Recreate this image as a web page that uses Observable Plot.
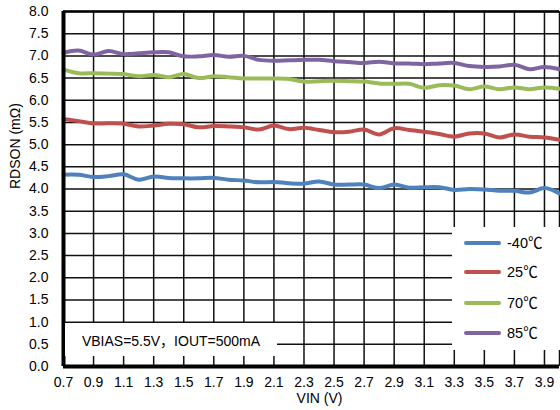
<!DOCTYPE html>
<html>
<head>
<meta charset="utf-8">
<script src="https://cdn.jsdelivr.net/npm/d3@7"></script>
<script src="https://cdn.jsdelivr.net/npm/@observablehq/plot@0.6"></script>
<style>
  html, body { margin: 0; padding: 0; background: #fff; }
  #wrap { position: relative; width: 560px; height: 410px; overflow: hidden;
          font-family: "Liberation Sans", Arial, "Noto Sans CJK SC", sans-serif; color: #000; }
  .box { position: absolute; background: #fff; }
  #legend { left: 452px; top: 227px; width: 110px; height: 123px; }
  .item { position: absolute; left: 0; height: 20px; }
  .sw { position: absolute; left: 12px; top: 8px; width: 37px; height: 4px; border-radius: 2px; }
  .lab { position: absolute; left: 55px; top: 1px; font-size: 14.5px; line-height: 18px; white-space: nowrap; }
  #note { left: 65px; top: 323px; width: 212px; height: 33px; font-size: 14px;
          display: flex; align-items: center; justify-content: center; white-space: nowrap; }
</style>
</head>
<body>
<div id="wrap"></div>
<script>
// ---- data ----
const vin = [0.7,0.8,0.9,1.0,1.1,1.2,1.3,1.4,1.5,1.6,1.7,1.8,1.9,2.0,2.1,2.2,2.3,2.4,2.5,2.6,2.7,2.8,2.9,3.0,3.1,3.2,3.3,3.4,3.5,3.6,3.7,3.8,3.9,4.0];
const rdsM40 = [4.32,4.32,4.27,4.29,4.33,4.21,4.28,4.25,4.24,4.24,4.25,4.21,4.19,4.15,4.16,4.13,4.12,4.17,4.10,4.10,4.10,4.02,4.10,4.03,4.04,4.04,3.98,4.00,3.99,3.96,3.96,3.92,4.02,3.90];
const rds25  = [5.58,5.53,5.48,5.48,5.47,5.41,5.43,5.47,5.46,5.39,5.42,5.41,5.39,5.34,5.43,5.35,5.38,5.33,5.28,5.29,5.34,5.23,5.37,5.33,5.29,5.24,5.18,5.25,5.25,5.16,5.23,5.18,5.16,5.11];
const rds70  = [6.69,6.61,6.61,6.60,6.59,6.54,6.57,6.52,6.59,6.50,6.54,6.52,6.49,6.49,6.49,6.48,6.42,6.43,6.44,6.43,6.42,6.38,6.37,6.37,6.28,6.34,6.33,6.25,6.31,6.25,6.29,6.25,6.29,6.26];
const rds85  = [7.07,7.12,7.03,7.11,7.04,7.06,7.08,7.08,6.99,6.99,7.02,6.98,7.00,6.91,6.89,6.90,6.91,6.91,6.88,6.86,6.84,6.87,6.83,6.83,6.81,6.83,6.84,6.77,6.75,6.76,6.80,6.70,6.75,6.70];
const seriesNames = ["-40℃", "25℃", "70℃", "85℃"];
const seriesValues = [rdsM40, rds25, rds70, rds85];
const seriesColors = ["#4f81bd", "#c0504d", "#9bbb59", "#8064a2"];
const xTicks = [0.7,0.9,1.1,1.3,1.5,1.7,1.9,2.1,2.3,2.5,2.7,2.9,3.1,3.3,3.5,3.7,3.9];
const yTicks = [0,0.5,1,1.5,2,2.5,3,3.5,4,4.5,5,5.5,6,6.5,7,7.5,8];
const xTitle = "VIN (V)";
const yTitle = "RDSON (mΩ)";
const note = "VBIAS=5.5V，IOUT=500mA";

const rows = [];
seriesNames.forEach((name, i) => {
  vin.forEach((v, j) => rows.push({vin: v, r: seriesValues[i][j], series: name}));
});

const chart = Plot.plot({
  width: 560,
  height: 410,
  marginLeft: 63,
  marginRight: 1,
  marginTop: 11,
  marginBottom: 44,
  x: {domain: [0.7, 4.0]},
  y: {domain: [0, 8]},
  color: {domain: seriesNames, range: seriesColors},
  style: {fontFamily: '"Liberation Sans", Arial, sans-serif', fontSize: "14px", color: "#000", background: "#fff", overflow: "visible"},
  marks: [
    Plot.ruleX(xTicks.concat([4.0]), {stroke: "#111", strokeWidth: 1.5}),
    Plot.ruleY(yTicks, {stroke: "#111", strokeWidth: 1.5}),
    Plot.line(rows, {x: "vin", y: "r", stroke: "series", z: "series", strokeWidth: 4, curve: "catmull-rom", strokeLinecap: "round"}),
    Plot.ruleX([0.7], {stroke: "#000", strokeWidth: 4}),
    Plot.ruleY([0], {stroke: "#000", strokeWidth: 4}),
    Plot.ruleY([8], {stroke: "#000", strokeWidth: 2.5}),
    Plot.axisX(xTicks, {tickSize: 0, tickPadding: 11, tickFormat: d3.format(".1f"), label: null, fontSize: 14}),
    Plot.axisY(yTicks, {tickSize: 0, tickPadding: 15, tickFormat: d3.format(".1f"), label: null, fontSize: 14}),
    Plot.text([xTitle], {frameAnchor: "bottom", dy: 32, dx: 8, text: d => d, fontSize: 14, lineAnchor: "middle"}),
    Plot.text([yTitle], {frameAnchor: "left", dx: -48, rotate: -90, text: d => d, fontSize: 14})
  ]
});

const wrap = document.getElementById("wrap");
wrap.appendChild(chart);

const legend = document.createElement("div");
legend.id = "legend";
legend.className = "box";
const offsets = [16, 45, 76, 106];
seriesNames.forEach((name, i) => {
  const it = document.createElement("div");
  it.className = "item";
  it.style.top = (offsets[i] - 10) + "px";
  const sw = document.createElement("div");
  sw.className = "sw";
  sw.style.background = seriesColors[i];
  const lab = document.createElement("div");
  lab.className = "lab";
  lab.textContent = name;
  it.appendChild(sw);
  it.appendChild(lab);
  legend.appendChild(it);
});
wrap.appendChild(legend);

const nt = document.createElement("div");
nt.id = "note";
nt.className = "box";
nt.textContent = note;
wrap.appendChild(nt);
</script>
</body>
</html>
